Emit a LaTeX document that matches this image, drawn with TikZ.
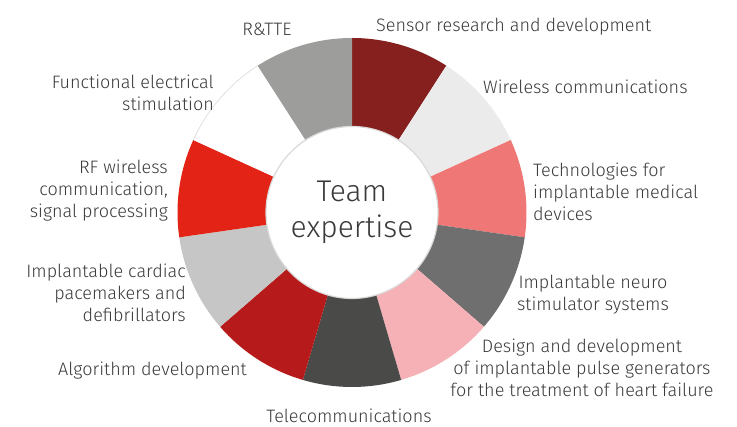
\documentclass[tikz,border=0pt]{standalone}
\usepackage{fontspec}
\setmainfont{Fira Sans Light}
\definecolor{txt}{HTML}{3A3A39}
\definecolor{s1}{HTML}{85201E}
\definecolor{s2}{HTML}{EBEBEB}
\definecolor{s3}{HTML}{EF7876}
\definecolor{s4}{HTML}{6F6F6F}
\definecolor{s5}{HTML}{F6B1B6}
\definecolor{s6}{HTML}{4A4A49}
\definecolor{s7}{HTML}{B71A1A}
\definecolor{s8}{HTML}{C6C6C6}
\definecolor{s9}{HTML}{E32315}
\definecolor{s10}{HTML}{FFFFFF}
\definecolor{s11}{HTML}{9D9D9C}

\begin{document}
\begin{tikzpicture}[x=1pt,y=1pt,
   lbl/.style={text=txt,inner sep=0pt,font=\fontsize{18}{22}\selectfont}]

\useasboundingbox (0,0) rectangle (737,427);
\coordinate (c) at (352,214.5);

\foreach \col [count=\i from 0] in {s1,s2,s3,s4,s5,s6,s7,s8,s9,s10,s11}
   \fill[\col] (c) -- ++({90-\i*360/11}:174.5)
         arc[start angle={90-\i*360/11}, delta angle={-360/11}, radius=174.5] -- cycle;
\draw[black!15,line width=.6pt] (c) ++(-204.55:174.5)
         arc[start angle=-204.55, delta angle=-32.73, radius=174.5];

\path node[circle,fill=white,draw=black!15,line width=1.2pt,minimum size=172pt,
           inner sep=0pt,align=center,text=txt,font=\fontsize{30}{36}\selectfont]
           (core) at (c) {Team\\expertise};

\path node[lbl,anchor=base]                  (rtte)   at (267,391) {R\&TTE}
      node[lbl,anchor=base west]             (sensor) at (376,395) {Sensor research and development}
      node[lbl,anchor=base west]             (wirel)  at (483,333) {Wireless communications}
      node[lbl,anchor=base west,align=left]  (tech)   at (533,206) {Technologies for\\implantable medical\\devices}
      node[lbl,anchor=base,align=center]     (neuro)  at (593,116) {Implantable neuro\\stimulator systems}
      node[lbl,anchor=base,align=center]     (design) at (582,30)  {Design and development\\of implantable pulse generators\\for the treatment of heart failure}
      node[lbl,anchor=base]                  (tele)   at (349,4.5) {Telecommunications}
      node[lbl,anchor=base east]             (algo)   at (247,51)  {Algorithm development}
      node[lbl,anchor=base east,align=right] (pace)   at (186,105) {Implantable cardiac\\pacemakers and\\defibrillators}
      node[lbl,anchor=base east,align=right] (rf)     at (168,209) {RF wireless\\communication,\\signal processing}
      node[lbl,anchor=base east,align=right] (fes)    at (214,316) {Functional electrical\\stimulation};
\end{tikzpicture}
\end{document}
